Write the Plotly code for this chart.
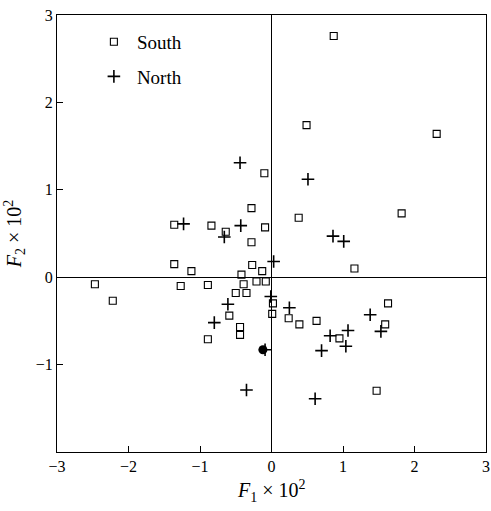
import plotly.graph_objects as go

# South observations (F1 x 10^2, F2 x 10^2)
south_x = [0.87, 0.49, 2.31, -0.10, -0.28, 0.38, 1.82, -0.09, -0.28, 1.16,
           -1.36, -0.84, -0.64, -1.36, -1.12, -0.27, -0.13, -0.42, -1.27, -0.89,
           -0.39, -0.21, -0.08, -0.50, -0.35, 0.02, 0.01, -0.59, -0.44, -0.44,
           -0.89, 0.24, 0.39, 0.63, 0.95, 1.63, 1.59, 1.47, -2.47, -2.22]
south_y = [2.76, 1.74, 1.64, 1.19, 0.79, 0.68, 0.73, 0.57, 0.40, 0.10,
           0.60, 0.59, 0.52, 0.15, 0.07, 0.14, 0.07, 0.03, -0.10, -0.09,
           -0.08, -0.05, -0.05, -0.18, -0.18, -0.30, -0.42, -0.44, -0.57, -0.66,
           -0.71, -0.47, -0.54, -0.50, -0.70, -0.30, -0.54, -1.30, -0.08, -0.27]

# North observations
north_x = [-0.44, 0.51, 0.86, 1.01, 0.03, -1.23, -0.66, -0.43, -0.01, -0.61,
           -0.80, -0.35, 0.25, 0.82, 1.07, 1.04, 0.70, 1.38, 1.53, 0.61, -0.09]
north_y = [1.31, 1.12, 0.47, 0.41, 0.18, 0.61, 0.46, 0.59, -0.22, -0.31,
           -0.52, -1.29, -0.35, -0.67, -0.61, -0.79, -0.84, -0.43, -0.62, -1.39, -0.83]

# Overlapping (solid) point
mark_x = [-0.12]
mark_y = [-0.83]

x_ticks = [-3, -2, -1, 0, 1, 2, 3]
y_ticks = [-1, 0, 1, 2, 3]

FONT = "Liberation Serif"

fig = go.Figure()
fig.add_trace(go.Scatter(
    x=south_x, y=south_y, mode="markers", name="South",
    legendgroup="s",
    marker=dict(symbol="square-open", size=7, color="black",
                line=dict(width=1.1, color="black")),
))
fig.add_trace(go.Scatter(
    x=north_x, y=north_y, mode="markers", name="North",
    legendgroup="n",
    marker=dict(symbol="cross-thin-open", size=9, color="black",
                line=dict(width=1.6, color="black")),
))
fig.add_trace(go.Scatter(
    x=mark_x, y=mark_y, mode="markers", showlegend=False,
    marker=dict(symbol="circle", size=9, color="black"),
))

axis_common = dict(
    showgrid=False, automargin=False, ticklabeloverflow="allow",
    zeroline=True, zerolinecolor="black", zerolinewidth=1.2,
    showline=True, linecolor="black", linewidth=1.2, mirror=True,
    ticks="inside", ticklen=6, tickwidth=1.2, tickcolor="black",
    tickfont=dict(family=FONT, size=16, color="black"),
)

fig.update_layout(
    width=491, height=511,
    margin=dict(l=57, r=5, t=15, b=59),
    paper_bgcolor="white", plot_bgcolor="white",
    showlegend=True,
    legend=dict(x=0.079, y=0.982, xanchor="left", yanchor="top",
                font=dict(family=FONT, size=19, color="black"),
                bgcolor="rgba(0,0,0,0)", traceorder="grouped",
                tracegroupgap=7, itemwidth=36),
    xaxis=dict(range=[-3, 3], tickvals=x_ticks, **axis_common),
    yaxis=dict(range=[-2, 3], tickvals=y_ticks,
               title=dict(text="<i>F</i><sub>2</sub> × 10<sup>2</sup>",
                          font=dict(family=FONT, size=20, color="black"),
                          standoff=8),
               **axis_common),
    annotations=[dict(
        text="<i>F</i><sub>1</sub> × 10<sup>2</sup>",
        xref="paper", yref="paper", x=0.5, y=-0.052,
        xanchor="center", yanchor="top", showarrow=False,
        font=dict(family=FONT, size=20, color="black"),
    )],
)

# Remove the browser's default body margin so the figure fills the window exactly.
fig.write_html(
    "out.html",
    config={"displayModeBar": False},
    post_script="document.body.style.margin='0';document.body.style.overflow='hidden';",
)
